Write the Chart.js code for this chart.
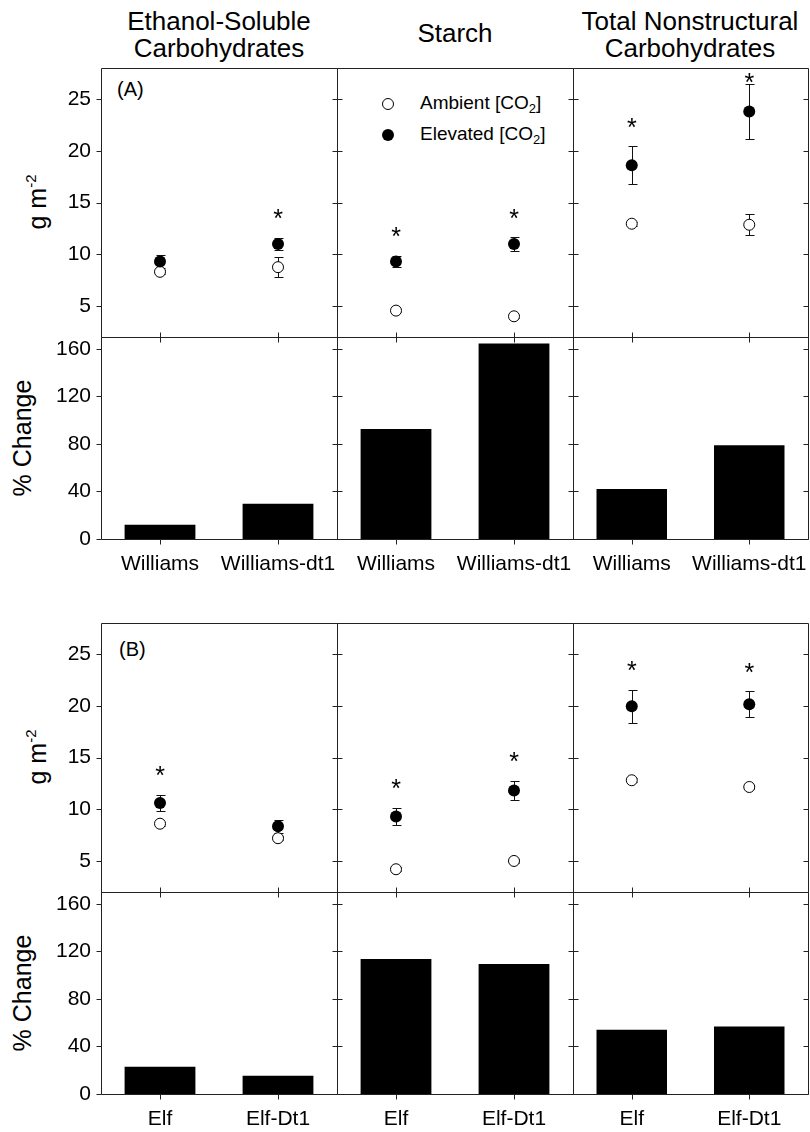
<!DOCTYPE html>
<html>
<head>
<meta charset="utf-8">
<script src="https://cdn.jsdelivr.net/npm/chart.js@4.4.1/dist/chart.umd.min.js"></script>
<style>
  html, body { margin: 0; padding: 0; overflow: hidden; background: #fff; }
  body { position: relative; width: 810px; height: 1132px; font-family: "Liberation Sans", Arial, sans-serif; color: #000; }
  .title { position: absolute; font-size: 26px; line-height: 27px; text-align: center; white-space: nowrap; transform: translateX(-50%); }
  .tag { position: absolute; font-size: 20px; line-height: 20px; }
  .axis { position: absolute; font-size: 25px; line-height: 25px; white-space: nowrap; transform: translate(-50%, -50%) rotate(-90deg); }
  .axis sup { font-size: 15px; vertical-align: 10px; line-height: 0; }
  .leg { position: absolute; font-size: 19px; line-height: 20px; white-space: nowrap; }
  .leg sub { font-size: 13px; vertical-align: -4px; line-height: 0; }
  .dot { position: absolute; border-radius: 50%; box-sizing: border-box; }
  canvas { position: absolute; }
</style>
</head>
<body>
<div class="title" style="left:219px; top:8px">Ethanol-Soluble<br>Carbohydrates</div>
<div class="title" style="left:455px; top:20px">Starch</div>
<div class="title" style="left:690px; top:8px">Total Nonstructural<br>Carbohydrates</div>

<div class="tag" style="left:117px; top:79px">(A)</div>
<div class="tag" style="left:119px; top:639px">(B)</div>

<div class="axis" style="left:37px; top:202px">g m<sup>-2</sup></div>
<div class="axis" style="left:22px; top:438px">% Change</div>
<div class="axis" style="left:37px; top:757px">g m<sup>-2</sup></div>
<div class="axis" style="left:22px; top:993px">% Change</div>

<div class="dot" style="left:382px; top:98px; width:12px; height:12px; border:1px solid #000; background:#fff"></div>
<div class="dot" style="left:382px; top:129px; width:12px; height:12px; background:#000"></div>
<div class="leg" style="left:420px; top:93px">Ambient [CO<sub>2</sub>]</div>
<div class="leg" style="left:420px; top:124px">Elevated [CO<sub>2</sub>]</div>

<script>
// genotypes and axis ticks
const genotypesA = ['Williams', 'Williams-dt1'];
const genotypesB = ['Elf', 'Elf-Dt1'];
const massTicks = [5, 10, 15, 20, 25];
const changeTicks = [0, 40, 80, 120, 160];

// (A) per column: ethanol-soluble, starch, total nonstructural
const ambientA     = [[8.3, 8.75], [4.55, 4.0], [12.95, 12.85]];
const ambientErrA  = [[0.2, 0.95], [0.15, 0.15], [0.2, 1.0]];
const elevatedA    = [[9.3, 11.0], [9.3, 11.0], [18.6, 23.8]];
const elevatedErrA = [[0.6, 0.6], [0.55, 0.65], [1.85, 2.7]];
const signifA      = [[false, true], [true, true], [true, true]];
const changeA      = [[12.0, 29.7], [92.6, 164.5], [42.1, 78.8]];

// (B)
const ambientB     = [[8.6, 7.2], [4.2, 5.0], [12.8, 12.15]];
const ambientErrB  = [[0.2, 0.2], [0.2, 0.2], [0.2, 0.2]];
const elevatedB    = [[10.6, 8.35], [9.3, 11.8], [19.95, 20.15]];
const elevatedErrB = [[0.8, 0.65], [0.85, 0.95], [1.6, 1.25]];
const signifB      = [[true, false], [true, true], [true, true]];
const changeB      = [[23.0, 15.4], [113.6, 109.4], [54.0, 56.8]];

// panel layout in page pixels
const colLeft = [101, 337, 573], colRight = [337, 573, 808];
const rowTop = [68, 337, 623, 892], rowBottom = [337, 539, 892, 1094];
const font = { family: '"Liberation Sans", Arial, sans-serif', size: 21 };

const crisp = v => Math.round(v) + 0.5;

// box round each panel, ticks crossing the shared edges
const framePlugin = {
  id: 'frame',
  afterDatasetsDraw(chart, args, opts) {
    const { ctx, chartArea: a, scales: { x, y } } = chart;
    const l = crisp(a.left), r = crisp(a.right), t = crisp(a.top), b = crisp(a.bottom);
    ctx.save();
    ctx.strokeStyle = '#222';
    ctx.lineWidth = 1;
    ctx.beginPath();
    ctx.rect(l, t, r - l, b - t);
    y.ticks.forEach(tk => {
      const yy = crisp(y.getPixelForValue(tk.value));
      ctx.moveTo(l - 5, yy);
      ctx.lineTo(l + (opts.col > 0 ? 5 : 0), yy);
      if (opts.col === 2) { ctx.moveTo(r - 5, yy); ctx.lineTo(r, yy); }
    });
    x.ticks.forEach((tk, i) => {
      const xx = crisp(x.getPixelForTick(i));
      ctx.moveTo(xx, b - (opts.upper ? 5 : 0));
      ctx.lineTo(xx, b + 5);
    });
    ctx.stroke();
    ctx.restore();
  }
};

const errorBarPlugin = {
  id: 'errorBars',
  beforeDatasetsDraw(chart) {
    const { ctx, scales: { y } } = chart;
    ctx.save();
    ctx.strokeStyle = '#111';
    ctx.lineWidth = 1;
    chart.data.datasets.forEach((ds, di) => {
      if (!ds.errors) return;
      chart.getDatasetMeta(di).data.forEach((pt, i) => {
        const hi = crisp(y.getPixelForValue(ds.data[i] + ds.errors[i]));
        const lo = crisp(y.getPixelForValue(ds.data[i] - ds.errors[i]));
        const xx = crisp(pt.x);
        ctx.beginPath();
        ctx.moveTo(xx, hi); ctx.lineTo(xx, lo);
        ctx.moveTo(xx - 4, hi); ctx.lineTo(xx + 5, hi);
        ctx.moveTo(xx - 4, lo); ctx.lineTo(xx + 5, lo);
        ctx.stroke();
      });
    });
    ctx.restore();
  }
};

const starPlugin = {
  id: 'stars',
  afterDatasetsDraw(chart, args, opts) {
    if (!opts.flags) return;
    const { ctx, chartArea: a, scales: { y } } = chart;
    const ds = chart.data.datasets[0];
    const meta = chart.getDatasetMeta(0);
    ctx.save();
    ctx.fillStyle = '#000';
    ctx.font = '25px "Liberation Sans", Arial, sans-serif';
    ctx.textAlign = 'center';
    opts.flags.forEach((on, i) => {
      if (!on) return;
      const top = y.getPixelForValue(ds.data[i] + ds.errors[i]);
      const yc = Math.max(a.top + 8, top - 25);
      ctx.fillText('*', meta.data[i].x, yc + 0.58 * 25);
    });
    ctx.restore();
  }
};

function makePanel(c, r, type, labels, datasets, flags) {
  const isBar = type === 'bar';
  const mL = c === 0 ? colLeft[0] : 8, mR = 40, mT = 30, mB = isBar ? 60 : 30;
  const w = colRight[c] - colLeft[c], h = rowBottom[r] - rowTop[r];
  const cv = document.createElement('canvas');
  cv.width = w + mL + mR;
  cv.height = h + mT + mB;
  cv.style.left = (colLeft[c] - mL) + 'px';
  cv.style.top = (rowTop[r] - mT) + 'px';
  document.body.appendChild(cv);
  const tickVals = isBar ? changeTicks : massTicks;
  new Chart(cv.getContext('2d'), {
    type: type,
    data: { labels: labels, datasets: datasets },
    plugins: [errorBarPlugin, framePlugin, starPlugin],
    options: {
      responsive: false,
      animation: false,
      events: [],
      layout: { padding: { top: mT, right: mR, left: 0, bottom: 0 } },
      plugins: {
        legend: { display: false },
        tooltip: { enabled: false },
        frame: { col: c, upper: !isBar },
        stars: { flags: flags }
      },
      scales: {
        x: {
          type: 'category',
          offset: true,
          grid: { display: false, drawTicks: false },
          border: { display: false },
          ticks: { display: isBar, padding: 13, font: font, color: '#000', maxRotation: 0, autoSkip: false },
          afterFit: s => { s.height = mB; }
        },
        y: {
          min: isBar ? 0 : 2,
          max: isBar ? 170 : 28,
          grid: { display: false, drawTicks: false },
          border: { display: false },
          ticks: { display: c === 0, padding: 10, font: font, color: '#000' },
          afterBuildTicks: s => { s.ticks = tickVals.map(v => ({ value: v })); },
          afterFit: s => { s.width = mL; }
        }
      }
    }
  });
}

function meansPanel(c, r, labels, elev, elevErr, amb, ambErr, flags) {
  makePanel(c, r, 'line', labels, [
    { data: elev, errors: elevErr, showLine: false, clip: false, pointRadius: 6,
      pointBackgroundColor: '#000', pointBorderColor: '#000', pointBorderWidth: 0 },
    { data: amb, errors: ambErr, showLine: false, clip: false, pointRadius: 5.5,
      pointBackgroundColor: '#fff', pointBorderColor: '#000', pointBorderWidth: 1 }
  ], flags);
}

function changePanel(c, r, labels, values) {
  makePanel(c, r, 'bar', labels, [
    { data: values, backgroundColor: '#000', borderWidth: 0, barPercentage: 0.6, categoryPercentage: 1 }
  ], null);
}

for (let c = 0; c < 3; c++) {
  meansPanel(c, 0, genotypesA, elevatedA[c], elevatedErrA[c], ambientA[c], ambientErrA[c], signifA[c]);
  changePanel(c, 1, genotypesA, changeA[c]);
  meansPanel(c, 2, genotypesB, elevatedB[c], elevatedErrB[c], ambientB[c], ambientErrB[c], signifB[c]);
  changePanel(c, 3, genotypesB, changeB[c]);
}
</script>
</body>
</html>
